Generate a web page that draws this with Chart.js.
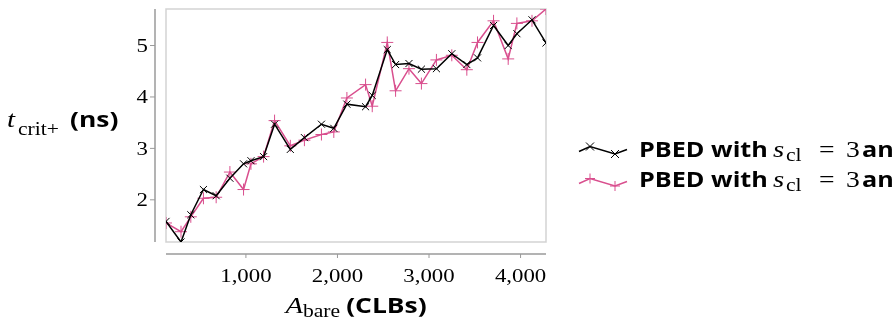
<!DOCTYPE html>
<html>
<head>
<meta charset="utf-8">
<script src="https://cdn.jsdelivr.net/npm/chart.js@4/dist/chart.umd.min.js"></script>
<style>
  body { margin: 0; background: #fff; }
  #wrap { width: 894px; height: 323px; position: relative; }
</style>
</head>
<body>
<div id="wrap"><canvas id="grafico"></canvas></div>
<script>
// area (CLBs) and critical time (ns)
const areas = [127, 291, 398, 536, 675, 825, 974, 1055, 1193, 1313, 1485, 1639, 1825, 1960, 2103,
  2307, 2380, 2544, 2635, 2781, 2917, 3081, 3249, 3413, 3530, 3705, 3865, 3960, 4125, 4278];
const tempoPreto = [1.58, 1.18, 1.71, 2.20, 2.08, 2.42, 2.70, 2.76, 2.84, 3.47, 2.98, 3.21, 3.47, 3.39, 3.86,
  3.81, 4.03, 4.92, 4.63, 4.65, 4.54, 4.55, 4.84, 4.63, 4.76, 5.39, 5.00, 5.23, 5.50, 5.05];
const tempoRosa = [1.55, 1.38, 1.67, 2.03, 2.05, 2.54, 2.20, 2.70, 2.84, 3.54, 3.05, 3.16, 3.27, 3.32, 3.98,
  4.24, 3.82, 5.06, 4.12, 4.55, 4.26, 4.72, 4.81, 4.53, 5.06, 5.48, 4.74, 5.43, 5.48, 5.71];
const ticksX = [1000, 2000, 3000, 4000];
const rotulosX = ['1,000', '2,000', '3,000', '4,000'];
const ticksY = [2, 3, 4, 5];
const legendas = ['PBED with s_cl = 3 and', 'PBED with s_cl = 3 and'];

const preto = '#000000';
const rosa = '#d94f8e';
const SX = 1.2; // text in the picture is a bit wider than the fonts here

const sans = '700 22px "Open Sans"';
const sansLeg = '700 21px "Open Sans"';
const serif = '19px "Liberation Serif"';
const mathIt = 'italic 24px "Liberation Serif"';
const mathRm = '23px "Liberation Serif"';
const sub = '18px "Liberation Serif"';

function largura(ctx, t, font) {
    ctx.save();
    ctx.font = font;
    let w = ctx.measureText(t).width * SX;
    ctx.restore();
    return w;
}

function texto(ctx, t, x, y, font, align) {
    let w = largura(ctx, t, font);
    let x0 = x;
    if (align === 'center') x0 = x - w / 2;
    if (align === 'right') x0 = x - w;
    ctx.save();
    ctx.font = font;
    ctx.textBaseline = 'alphabetic';
    ctx.textAlign = 'left';
    ctx.translate(x0, y);
    ctx.scale(SX, 1);
    ctx.fillStyle = '#000';
    ctx.fillText(t, 0, 0);
    ctx.restore();
    return w;
}

function marcaX(ctx, x, y, r) {
    ctx.beginPath();
    ctx.moveTo(x - r, y - r); ctx.lineTo(x + r, y + r);
    ctx.moveTo(x - r, y + r); ctx.lineTo(x + r, y - r);
    ctx.stroke();
}
function marcaMais(ctx, x, y, r) {
    ctx.beginPath();
    ctx.moveTo(x - r, y); ctx.lineTo(x + r, y);
    ctx.moveTo(x, y - r); ctx.lineTo(x, y + r);
    ctx.stroke();
}

const eixos = {
    id: 'eixos',
    beforeDatasetsDraw(chart) {
        const ctx = chart.ctx;
        const a = chart.chartArea;
        const sx = chart.scales.x, sy = chart.scales.y;
        ctx.save();
        // frame
        ctx.strokeStyle = '#d3d3d3';
        ctx.lineWidth = 1.5;
        ctx.strokeRect(a.left, a.top, a.right - a.left, a.bottom - a.top);
        // offset axis lines
        ctx.strokeStyle = '#9a9a9a';
        ctx.lineWidth = 1.5;
        ctx.beginPath();
        ctx.moveTo(a.left - 11, a.top); ctx.lineTo(a.left - 11, a.bottom);
        ctx.moveTo(a.left, a.bottom + 12); ctx.lineTo(a.right, a.bottom + 12);
        ctx.stroke();
        ctx.lineWidth = 1;
        ctx.beginPath();
        ticksY.forEach(v => {
            let py = sy.getPixelForValue(v);
            ctx.moveTo(a.left - 16, py); ctx.lineTo(a.left - 11, py);
        });
        ticksX.forEach(v => {
            let px = sx.getPixelForValue(v);
            ctx.moveTo(px, a.bottom + 12); ctx.lineTo(px, a.bottom + 16);
        });
        ctx.stroke();
        ctx.restore();

        ticksY.forEach(v => {
            texto(ctx, String(v), a.left - 18, sy.getPixelForValue(v) + 6.5, serif, 'right');
        });
        ticksX.forEach((v, i) => {
            texto(ctx, rotulosX[i], sx.getPixelForValue(v), 282, serif, 'center');
        });

        // y title
        texto(ctx, 't', 7, 126.5, mathIt);
        texto(ctx, 'crit+', 18, 135, sub);
        texto(ctx, '(ns)', 70, 126.5, sans);

        // x title, centred under the plot
        const partes = [['A', mathIt, 0, 0], ['bare', sub, 4, 0], ['(CLBs)', sans, 0, 6]];
        let total = 0;
        partes.forEach(p => total += largura(ctx, p[0], p[1]) + p[3]);
        let cx = (a.left + a.right) / 2 - total / 2;
        partes.forEach(p => {
            cx += p[3];
            cx += texto(ctx, p[0], cx, 313 + p[2], p[1]);
        });
    },
    afterDraw(chart) {
        const ctx = chart.ctx;
        const linhas = [
            { cor: preto, base: 156.7, yc: 150, marca: marcaX, r: 4 },
            { cor: rosa, base: 186.7, yc: 182, marca: marcaMais, r: 5 }
        ];
        linhas.forEach(l => {
            const pts = [[579, l.yc + 1.5], [590, l.yc - 3.5], [615, l.yc + 4], [627, l.yc - 0.5]];
            ctx.save();
            ctx.strokeStyle = l.cor;
            ctx.lineWidth = 1.5;
            ctx.beginPath();
            pts.forEach((p, i) => i ? ctx.lineTo(p[0], p[1]) : ctx.moveTo(p[0], p[1]));
            ctx.stroke();
            ctx.lineWidth = 1;
            l.marca(ctx, pts[1][0], pts[1][1], l.r);
            l.marca(ctx, pts[2][0], pts[2][1], l.r);
            ctx.restore();

            texto(ctx, 'PBED with', 639, l.base, sansLeg);
            texto(ctx, 's', 773, l.base, mathIt);
            texto(ctx, 'cl', 786, l.base + 4, sub);
            texto(ctx, '=', 819, l.base, mathRm);
            texto(ctx, '3', 846, l.base, mathRm);
            texto(ctx, 'and', 862, l.base, sansLeg);
        });
    }
};

function pontos(ys) {
    return areas.map((a, i) => ({ x: a, y: ys[i] }));
}

const grafico = new Chart(document.getElementById('grafico'), {
    type: 'line',
    data: {
        datasets: [{
            label: legendas[0],
            data: pontos(tempoPreto),
            borderColor: preto,
            backgroundColor: preto,
            borderWidth: 1.5,
            pointStyle: 'crossRot',
            pointRadius: 5,
            pointBorderWidth: 1,
            tension: 0
        }, {
            label: legendas[1],
            data: pontos(tempoRosa),
            borderColor: rosa,
            backgroundColor: rosa,
            borderWidth: 1.5,
            pointStyle: 'cross',
            pointRadius: 6,
            pointBorderWidth: 1,
            tension: 0
        }]
    },
    options: {
        responsive: true,
        maintainAspectRatio: false,
        animation: false,
        devicePixelRatio: 1,
        layout: { padding: { left: 166, right: 348, top: 9, bottom: 81 } },
        scales: {
            x: {
                type: 'linear',
                display: false,
                min: Math.min(...areas),
                max: Math.max(...areas)
            },
            y: {
                display: false,
                min: Math.min(...tempoPreto, ...tempoRosa),
                max: Math.max(...tempoPreto, ...tempoRosa)
            }
        },
        plugins: {
            legend: { display: false },
            tooltip: { enabled: false }
        }
    },
    plugins: [eixos]
});
</script>
</body>
</html>
